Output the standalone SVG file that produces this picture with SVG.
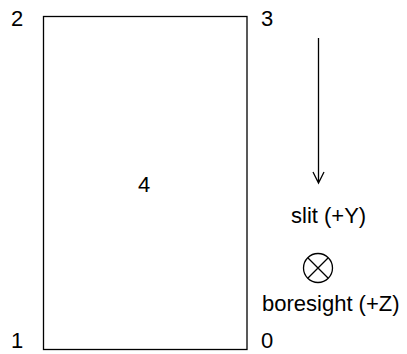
<svg xmlns="http://www.w3.org/2000/svg" width="407" height="354" viewBox="0 0 407 354">
<style>
text{font-family:"Liberation Sans",Arial,sans-serif;font-size:22px;fill:#000}
.s{fill:none;stroke:#000;stroke-width:1.3}
</style>
<rect width="407" height="354" fill="#fff"/>
<g id="box"><rect class="s" x="43.5" y="16.5" width="203.5" height="333"/><text x="144" y="192" text-anchor="middle">4</text></g>
<g id="labels">
<text x="11" y="26">2</text>
<text x="261" y="26">3</text>
<text x="11" y="348">1</text>
<text x="261" y="348">0</text>
</g>
<g id="connectors"><path class="s" d="M318.5 38V183M313 172L318.5 183L324 172"/></g>
<g id="slit"><text x="291" y="223">slit (+Y)</text></g>
<g id="boresight"><circle class="s" cx="318" cy="268" r="14.5"/><path class="s" d="M308 258L328 278M328 258L308 278"/><text x="262" y="311">boresight (+Z)</text></g>
</svg>
